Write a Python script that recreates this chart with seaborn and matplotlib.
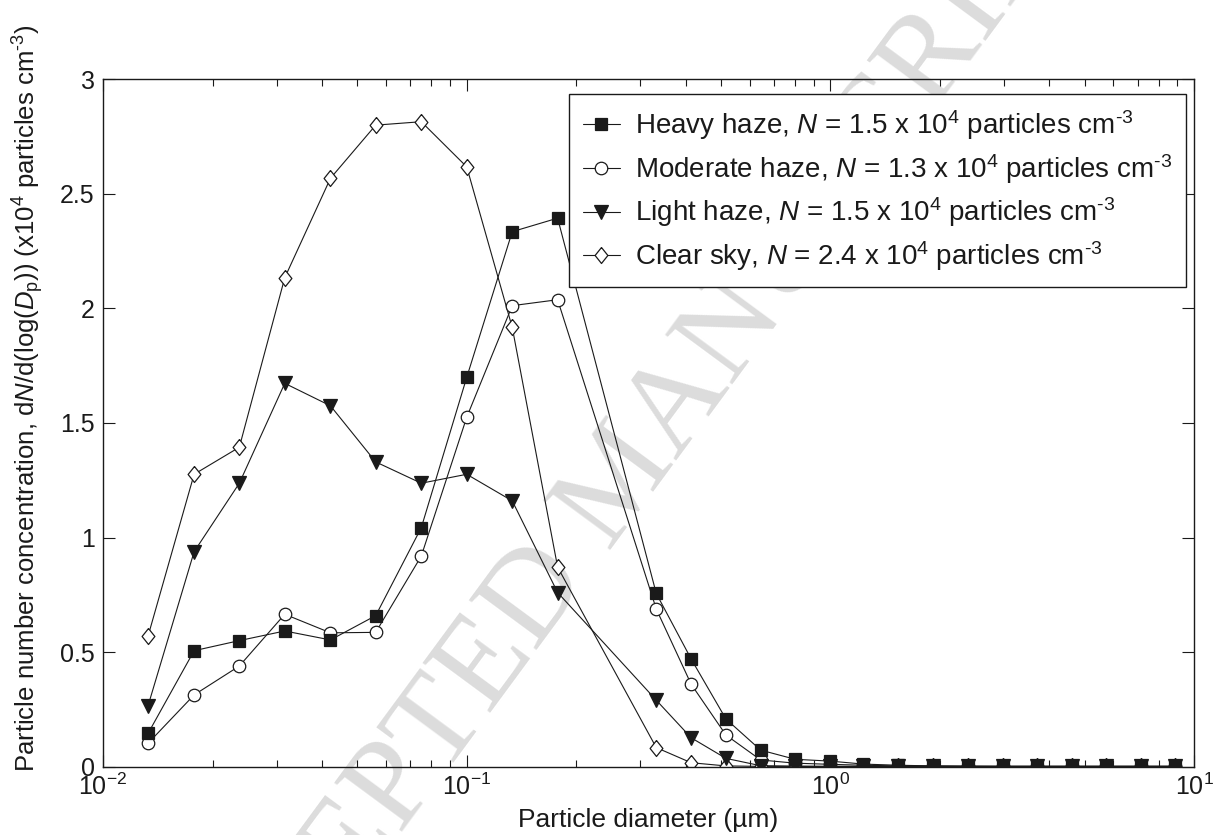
import numpy as np
import pandas as pd
import matplotlib
matplotlib.use("Agg")
import matplotlib.pyplot as plt
from matplotlib.ticker import FixedLocator, FuncFormatter, LogLocator, NullFormatter
import seaborn as sns

# ---------------- data ----------------
diam_small = [0.0133, 0.0178, 0.0237, 0.0316, 0.0422, 0.0562, 0.0750, 0.1000, 0.1334, 0.1778]
diam_large = [0.332, 0.414, 0.516, 0.643, 0.800, 0.999, 1.233, 1.536, 1.917, 2.387,
              2.987, 3.700, 4.615, 5.734, 7.157, 8.880]
diameter = diam_small + diam_large

heavy = [0.145, 0.506, 0.550, 0.592, 0.553, 0.659, 1.043, 1.699, 2.335, 2.394,
         0.756, 0.470, 0.208, 0.072, 0.032, 0.024, 0.011, 0.006, 0.003, 0.002,
         0.001, 0.001, 0.001, 0.001, 0.001, 0.001]
moderate = [0.102, 0.313, 0.439, 0.665, 0.584, 0.586, 0.919, 1.525, 2.012, 2.038,
            0.688, 0.360, 0.138, 0.029, 0.015, 0.010, 0.006, 0.003, 0.002, 0.001,
            0.001, 0.001, 0.001, 0.001, 0.001, 0.001]
light = [0.266, 0.938, 1.237, 1.673, 1.575, 1.330, 1.237, 1.276, 1.160, 0.760,
         0.290, 0.126, 0.036, 0.004, 0.002, 0.001, 0.001, 0.001, 0.001, 0.001,
         0.001, 0.001, 0.001, 0.001, 0.001, 0.001]
clear = [0.570, 1.276, 1.394, 2.134, 2.568, 2.800, 2.815, 2.618, 1.917, 0.871,
         0.083, 0.017, 0.003, 0.001, 0.001, 0.001, 0.001, 0.001, 0.001, 0.001,
         0.001, 0.001, 0.001, 0.001, 0.001, 0.001]

series_names = ["Heavy haze", "Moderate haze", "Light haze", "Clear sky"]
series_N = ["1.5", "1.3", "1.5", "2.4"]
y_ticks = [0, 0.5, 1, 1.5, 2, 2.5, 3]

# ---------------- style ----------------
sns.set_style("ticks")
ink = "#1a1a1a"
plt.rcParams.update({
    "font.family": ["Liberation Sans", "DejaVu Sans"],
    "mathtext.fontset": "custom",
    "mathtext.rm": "Liberation Sans",
    "mathtext.it": "Liberation Sans:italic",
    "mathtext.bf": "Liberation Sans:bold",
    "mathtext.sf": "Liberation Sans",
    "text.color": ink,
    "axes.labelcolor": ink,
    "axes.edgecolor": ink,
    "xtick.color": ink,
    "ytick.color": ink,
    "xtick.direction": "in",
    "ytick.direction": "in",
})

fig = plt.figure(figsize=(12.15, 8.35), dpi=100)
ax = fig.add_axes([0.0848, 0.0819, 0.898, 0.8231])
ax.set_facecolor("none")

# journal watermark behind the axes
fig.text(623 / 1215, 1 - 481 / 835, "ACCEPTED MANUSCRIPT", fontsize=92, family="Liberation Serif",
         color="#dcdcdc", rotation=53.6, ha="center", va="center",
         rotation_mode="anchor", zorder=-5)

df = pd.DataFrame({"diameter": diameter, "Heavy haze": heavy, "Moderate haze": moderate,
                   "Light haze": light, "Clear sky": clear})

diamond = [(0, 1), (0.8, 0), (0, -1), (-0.8, 0), (0, 1)]
styles = {
    "Heavy haze": dict(marker="s", markersize=8, markerfacecolor=ink),
    "Moderate haze": dict(marker="o", markersize=9, markerfacecolor="white"),
    "Light haze": dict(marker="v", markersize=9.5, markerfacecolor=ink),
    "Clear sky": dict(marker=diamond, markersize=11.5, markerfacecolor="white"),
}

draw_order = ["Clear sky", "Moderate haze", "Light haze", "Heavy haze"]
handles = {}
for name in draw_order:
    sns.lineplot(data=df, x="diameter", y=name, ax=ax, color=ink, linewidth=0.8,
                 markeredgecolor=ink, markeredgewidth=0.9, errorbar=None, sort=False,
                 legend=False, **styles[name])
    handles[name] = ax.lines[-1]

ax.set_xscale("log")
ax.set_xlim(1e-2, 1e1)
ax.set_ylim(0, 3)
ax.yaxis.set_major_locator(FixedLocator(y_ticks))
ax.yaxis.set_major_formatter(FuncFormatter(lambda v, p: f"{v:g}"))
ax.xaxis.set_major_locator(LogLocator(base=10, numticks=10))
ax.xaxis.set_minor_locator(LogLocator(base=10, subs=np.arange(2, 10), numticks=30))
ax.xaxis.set_minor_formatter(NullFormatter())

for s in ax.spines.values():
    s.set_visible(True)
    s.set_linewidth(1.0)
    s.set_color(ink)
ax.tick_params(which="both", top=True, right=True, direction="in", width=0.8)
ax.tick_params(which="major", length=8.5, labelsize=18)
ax.tick_params(axis="x", which="major", pad=5)
ax.tick_params(axis="y", which="major", pad=6)
ax.tick_params(which="minor", length=5)

ax.set_xlabel("Particle diameter (µm)", fontsize=19)
ax.set_ylabel(r"Particle number concentration, d$N$/d(log($D_{\mathrm{p}}$)) (x10$^{4}$ particles cm$^{\text{-3}}$)",
              fontsize=18.5)
ax.xaxis.set_label_coords(0.5, -0.060)
ax.yaxis.set_label_coords(-0.052, 0.536)

labels = [f"{n}, $N$ = {v} x 10$^{{4}}$ particles cm$^{{\\text{{-3}}}}$" for n, v in zip(series_names, series_N)]
leg = ax.legend([handles[n] for n in series_names], labels, loc="upper right",
                bbox_to_anchor=(0.9927, 0.9786), borderaxespad=0, fontsize=20,
                frameon=True, fancybox=False, framealpha=1, edgecolor=ink,
                handlelength=1.33, handletextpad=0.55, labelspacing=0.36, borderpad=0.5)
leg.get_frame().set_linewidth(1.0)

fig.savefig("out.png", dpi=100)
